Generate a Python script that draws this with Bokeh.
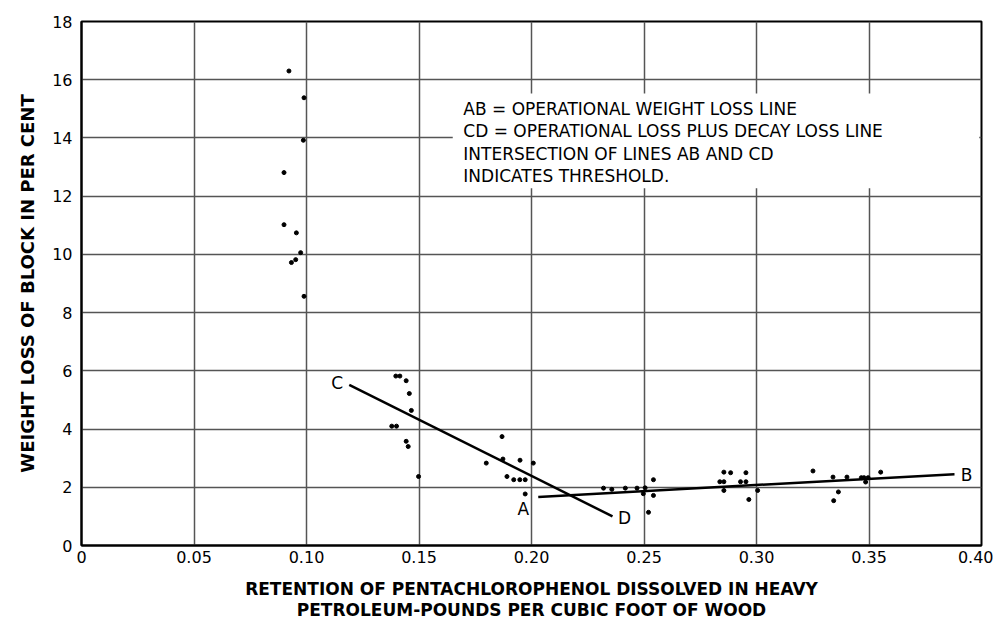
from bokeh.plotting import figure
from bokeh.models import FixedTicker, Label, BoxAnnotation, ColumnDataSource, Title
from bokeh.core.properties import value
from bokeh.embed import file_html
from bokeh.resources import INLINE

# ---- data ----
retention = [0.0922, 0.0989, 0.0986, 0.0900, 0.0900, 0.0955, 0.0974, 0.0952, 0.0933, 0.0989,
             0.1397, 0.1415, 0.1443, 0.1457, 0.1466, 0.1379, 0.1400, 0.1443, 0.1452, 0.1498,
             0.1869, 0.1799, 0.1873, 0.1949, 0.2008, 0.1891, 0.1921, 0.1948, 0.1972, 0.1972,
             0.2320, 0.2357, 0.2417, 0.2469, 0.2505, 0.2542, 0.2497, 0.2542, 0.2520,
             0.2855, 0.2885, 0.2953, 0.2837, 0.2855, 0.2929, 0.2953, 0.2855, 0.2966, 0.3005,
             0.3251, 0.3340, 0.3402, 0.3466, 0.3478, 0.3496, 0.3485, 0.3552, 0.3364, 0.3343]
weight_loss = [16.30, 15.38, 13.92, 12.81, 11.02, 10.74, 10.06, 9.82, 9.72, 8.56,
               5.82, 5.82, 5.66, 5.22, 4.64, 4.10, 4.10, 3.58, 3.40, 2.37,
               3.74, 2.83, 2.97, 2.93, 2.83, 2.37, 2.26, 2.26, 2.26, 1.77,
               1.97, 1.93, 1.97, 1.97, 1.98, 2.26, 1.78, 1.72, 1.14,
               2.52, 2.50, 2.50, 2.19, 2.19, 2.19, 2.19, 1.89, 1.58, 1.89,
               2.56, 2.35, 2.35, 2.33, 2.33, 2.33, 2.18, 2.52, 1.84, 1.54]

line_ab_x = [0.203, 0.388]
line_ab_y = [1.67, 2.45]
line_cd_x = [0.119, 0.236]
line_cd_y = [5.52, 1.00]

x_ticks = [0, 0.05, 0.10, 0.15, 0.20, 0.25, 0.30, 0.35, 0.40]
x_tick_labels = ["0", "0.05", "0.10", "0.15", "0.20", "0.25", "0.30", "0.35", "0.40"]
y_ticks = [0, 2, 4, 6, 8, 10, 12, 14, 16, 18]

note_lines = ["AB = OPERATIONAL WEIGHT LOSS LINE",
              "CD = OPERATIONAL LOSS PLUS DECAY LOSS LINE",
              "INTERSECTION OF LINES AB AND CD",
              "INDICATES THRESHOLD."]
x_title = ["RETENTION OF PENTACHLOROPHENOL DISSOLVED IN HEAVY",
           "PETROLEUM-POUNDS PER CUBIC FOOT OF WOOD"]
y_title = "WEIGHT LOSS OF BLOCK IN PER CENT"

FONT = "DejaVu Sans"

p = figure(width=993, height=622, x_range=(0, 0.40), y_range=(0, 18),
           output_backend="svg", toolbar_location=None,
           min_border_left=81, min_border_right=12, min_border_top=21, min_border_bottom=76)
p.background_fill_color = "white"
p.border_fill_color = "white"
p.outline_line_color = "black"
p.outline_line_width = 2

for ax in (p.xaxis, p.yaxis):
    ax.axis_line_width = 2
    ax.axis_line_color = "black"
    ax.major_tick_out = 0
    ax.major_tick_in = 0
    ax.minor_tick_out = 0
    ax.minor_tick_in = 0
    ax.major_label_text_font = FONT
    ax.major_label_text_font_size = "16px"
    ax.major_label_text_color = "black"

p.xaxis.ticker = FixedTicker(ticks=x_ticks)
p.xaxis.major_label_overrides = {t: l for t, l in zip(x_ticks, x_tick_labels)}
p.xaxis.major_label_standoff = 5
p.yaxis.ticker = FixedTicker(ticks=y_ticks)
p.yaxis.major_label_standoff = 9

p.add_layout(Title(text=y_title, align="center", text_font=FONT,
                   text_font_style="bold", text_font_size="18px", text_color="black",
                   standoff=24), "left")

p.xaxis.axis_label = "\n".join(x_title)
p.xaxis.axis_label_text_font = FONT
p.xaxis.axis_label_text_font_style = "bold"
p.xaxis.axis_label_text_font_size = "17px"
p.xaxis.axis_label_text_color = "black"
p.xaxis.axis_label_text_align = "center"
p.xaxis.axis_label_text_line_height = 1.05
p.xaxis.axis_label_standoff = 13

p.grid.grid_line_color = "#555555"
p.grid.grid_line_width = 1.5
p.grid.grid_line_alpha = 1.0

# white box behind the note
p.add_layout(BoxAnnotation(left=0.165, right=0.399, bottom=12.27, top=15.53,
                           fill_color="white", fill_alpha=1.0, line_alpha=0))

p.line(line_ab_x, line_ab_y, line_color="black", line_width=2.5)
p.line(line_cd_x, line_cd_y, line_color="black", line_width=2.5)

src = ColumnDataSource(dict(x=retention, y=weight_loss))
p.scatter("x", "y", source=src, size=4, color="black")

lab = dict(text_font=value(FONT), text_font_size="17px", text_color="black",
           text_baseline="middle", text_align="center")
p.text(x=[line_cd_x[0]], y=[line_cd_y[0]], text=["C"], x_offset=-12, y_offset=-2, **lab)
p.text(x=[line_cd_x[1]], y=[line_cd_y[1]], text=["D"], x_offset=12, y_offset=2, **lab)
p.text(x=[line_ab_x[0]], y=[line_ab_y[0]], text=["A"], x_offset=-15, y_offset=12, **lab)
p.text(x=[line_ab_x[1]], y=[line_ab_y[1]], text=["B"], x_offset=12, y_offset=1, **lab)

for i, t in enumerate(note_lines):
    p.add_layout(Label(x=0.1697, y=15.08, y_offset=-2 - 22.5 * i, text=t, text_font=FONT,
                       text_font_size="17px", text_color="black", text_baseline="middle"))

open("out.html", "w").write(file_html(p, INLINE))
